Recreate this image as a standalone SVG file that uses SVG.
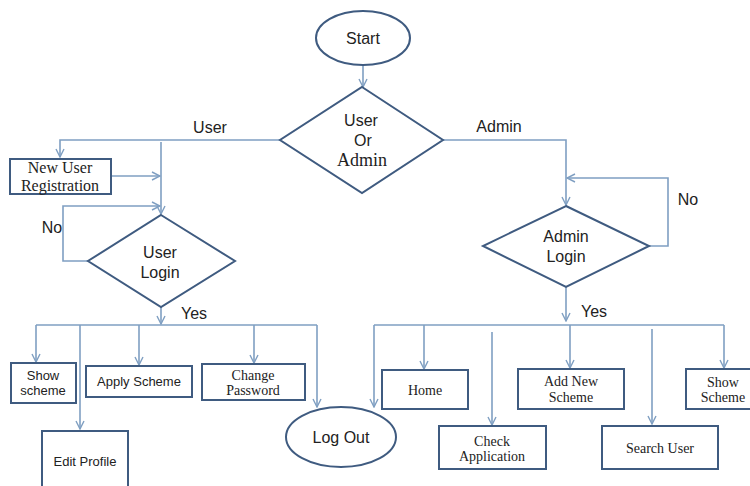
<svg xmlns="http://www.w3.org/2000/svg" width="750" height="486" viewBox="0 0 750 486">
<defs>
<marker id="ah" viewBox="0 0 10 10" refX="9" refY="5" markerWidth="10" markerHeight="10" markerUnits="userSpaceOnUse" orient="auto">
<path d="M1,1 L9,5 L1,9" fill="none" stroke="#7f9fc2" stroke-width="1.4"/>
</marker>
</defs>
<style>
.n{fill:#fff;stroke:#3f5b80;stroke-width:2}
.c{fill:none;stroke:#7f9fc2;stroke-width:1.6}
.a{marker-end:url(#ah)}
.s{font-family:"Liberation Sans",Arial,sans-serif;fill:#222;text-anchor:middle}
.t{font-family:"Liberation Serif","Times New Roman",serif;fill:#222;text-anchor:middle}
</style>
<rect width="750" height="486" fill="#fff"/>
<g id="connectors">
<path class="c a" d="M363,65 V87"/>
<path class="c a" d="M280,140 H60 V157"/>
<path class="c a" d="M161,142 V214"/>
<path class="c a" d="M111,176 H160"/>
<path class="c a" d="M88,261 H63 V206 H160"/>
<path class="c a" d="M443,140 H566 V205"/>
<path class="c a" d="M649,246 H668 V178 H567"/>
<path class="c a" d="M161,307 V324"/>
<path class="c" d="M36,325 H317"/>
<path class="c a" d="M36,325 V362"/>
<path class="c a" d="M80,325 V429"/>
<path class="c a" d="M139,325 V365"/>
<path class="c a" d="M254,325 V363"/>
<path class="c a" d="M317,325 V407"/>
<path class="c a" d="M566,287 V321"/>
<path class="c" d="M374,325 H724"/>
<path class="c a" d="M374,325 V407"/>
<path class="c a" d="M424,325 V369"/>
<path class="c a" d="M492,332 V425"/>
<path class="c a" d="M570,325 V368"/>
<path class="c a" d="M652,329 V424"/>
<path class="c a" d="M724,325 V368"/>
</g>
<g id="labels">
<text class="s" x="210" y="133" font-size="16">User</text>
<text class="s" x="499" y="132" font-size="16">Admin</text>
<text class="s" x="52" y="233" font-size="16">No</text>
<text class="s" x="688" y="205" font-size="16">No</text>
<text class="s" x="194" y="319" font-size="16">Yes</text>
<text class="s" x="594" y="317" font-size="16">Yes</text>
</g>
<g id="start">
<ellipse class="n" cx="363" cy="38" rx="47" ry="27"/>
<text class="s" x="363" y="44" font-size="16">Start</text>
</g>
<g id="user-or-admin">
<polygon class="n" points="362,87 443,140 362,193 280,140"/>
<text class="s" x="361" y="126" font-size="16">User</text>
<text class="s" x="363" y="146" font-size="16">Or</text>
<text class="t" x="362" y="166" font-size="18">Admin</text>
</g>
<g id="new-user-registration">
<rect class="n" x="10" y="159" width="101" height="35"/>
<text class="t" x="60" y="173" font-size="16">New User</text>
<text class="t" x="60" y="191" font-size="16">Registration</text>
</g>
<g id="user-login">
<polygon class="n" points="161,215 235,261 161,307 88,261"/>
<text class="s" x="160" y="258" font-size="16">User</text>
<text class="s" x="160" y="278" font-size="16">Login</text>
</g>
<g id="admin-login">
<polygon class="n" points="566,206 649,246 566,287 483,246"/>
<text class="s" x="566" y="242" font-size="16">Admin</text>
<text class="s" x="566" y="262" font-size="16">Login</text>
</g>
<g id="show-scheme-user">
<rect class="n" x="11" y="363" width="65" height="40"/>
<text class="s" x="43" y="380" font-size="13">Show</text>
<text class="s" x="43" y="395" font-size="13">scheme</text>
</g>
<g id="apply-scheme">
<rect class="n" x="86" y="366" width="106" height="31"/>
<text class="s" x="139" y="386" font-size="13">Apply Scheme</text>
</g>
<g id="change-password">
<rect class="n" x="202" y="364" width="103" height="36"/>
<text class="t" x="253" y="380" font-size="14">Change</text>
<text class="t" x="253" y="395" font-size="14">Password</text>
</g>
<g id="edit-profile">
<rect class="n" x="42" y="431" width="86" height="70"/>
<text class="s" x="85" y="466" font-size="13">Edit Profile</text>
</g>
<g id="log-out">
<ellipse class="n" cx="341" cy="437" rx="55" ry="30"/>
<text class="s" x="341" y="443" font-size="16">Log Out</text>
</g>
<g id="home">
<rect class="n" x="382" y="370" width="86" height="39"/>
<text class="t" x="425" y="395" font-size="14">Home</text>
</g>
<g id="check-application">
<rect class="n" x="439" y="426" width="107" height="43"/>
<text class="t" x="492" y="446" font-size="14">Check</text>
<text class="t" x="492" y="461" font-size="14">Application</text>
</g>
<g id="add-new-scheme">
<rect class="n" x="518" y="369" width="106" height="40"/>
<text class="t" x="571" y="386" font-size="14">Add New</text>
<text class="t" x="571" y="402" font-size="14">Scheme</text>
</g>
<g id="search-user">
<rect class="n" x="602" y="426" width="116" height="43"/>
<text class="t" x="660" y="453" font-size="14">Search User</text>
</g>
<g id="show-scheme-admin">
<rect class="n" x="686" y="369" width="70" height="40"/>
<text class="t" x="723" y="387" font-size="14">Show</text>
<text class="t" x="723" y="402" font-size="14">Scheme</text>
</g>
</svg>
